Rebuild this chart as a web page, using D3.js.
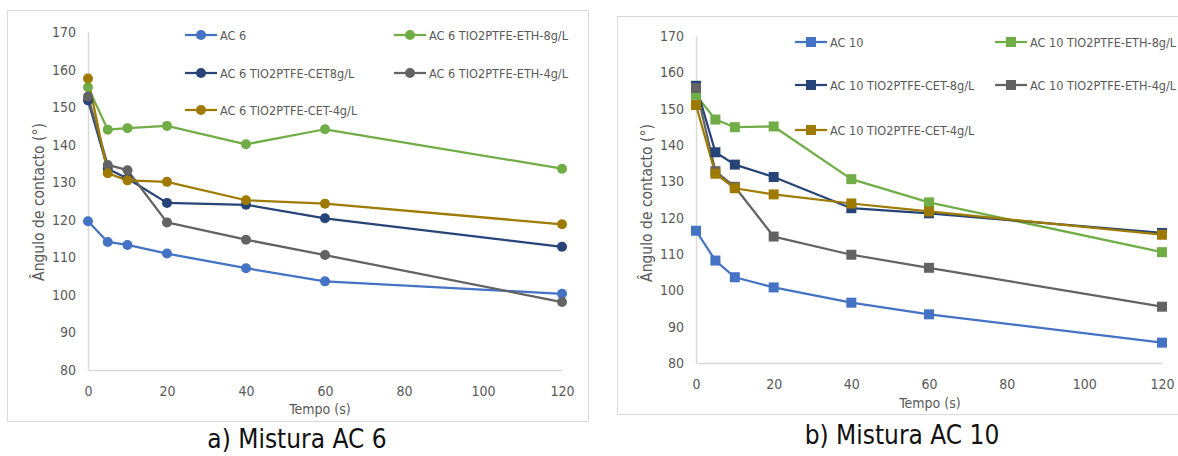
<!DOCTYPE html>
<html>
<head>
<meta charset="utf-8">
<script src="https://cdn.jsdelivr.net/npm/d3@7"></script>
<style>
  body { margin: 0; background: #fff; }
  svg text { font-family: "DejaVu Sans Condensed", "Liberation Sans", sans-serif; }
</style>
</head>
<body>
<svg id="chart" width="1178" height="456"></svg>
<script>
// time points (s)
const tempo = [0, 5, 10, 20, 40, 60, 120];
const xTicks = [0, 20, 40, 60, 80, 100, 120];
const yTicks = [80, 90, 100, 110, 120, 130, 140, 150, 160, 170];

// panel a) AC 6
const namesA = ["AC 6", "AC 6 TIO2PTFE-ETH-8g/L", "AC 6 TIO2PTFE-CET8g/L", "AC 6 TIO2PTFE-ETH-4g/L", "AC 6 TIO2PTFE-CET-4g/L"];
const ac6 = [119.6, 114.1, 113.3, 111.0, 107.1, 103.6, 100.3];
const ac6Eth8 = [155.3, 144.0, 144.4, 145.0, 140.1, 144.1, 133.6];
const ac6Cet8 = [151.8, 133.6, 131.0, 124.5, 124.0, 120.4, 112.8];
const ac6Eth4 = [152.8, 134.6, 133.2, 119.3, 114.7, 110.6, 98.1];
const ac6Cet4 = [157.6, 132.4, 130.5, 130.1, 125.2, 124.3, 118.8];

// panel b) AC 10
const namesB = ["AC 10", "AC 10 TIO2PTFE-ETH-8g/L", "AC 10 TIO2PTFE-CET-8g/L", "AC 10 TIO2PTFE-ETH-4g/L", "AC 10 TIO2PTFE-CET-4g/L"];
const ac10 = [116.4, 108.2, 103.6, 100.8, 96.6, 93.4, 85.6];
const ac10Eth8 = [153.8, 147.0, 144.9, 145.1, 130.6, 124.2, 110.5];
const ac10Cet8 = [156.3, 138.0, 134.6, 131.2, 122.6, 121.2, 115.8];
const ac10Eth4 = [155.7, 132.8, 128.5, 114.8, 109.8, 106.2, 95.5];
const ac10Cet4 = [151.0, 132.1, 128.1, 126.4, 123.9, 121.7, 115.3];

const colors = ["#4472C4", "#70AD47", "#264478", "#636363", "#9E7B00"];

const svg = d3.select("#chart");

function drawPanel(opt) {
  const g = svg.append("g");

  // frame
  g.append("rect")
    .attr("x", opt.frame[0] + 0.5).attr("y", opt.frame[1] + 0.5)
    .attr("width", opt.frame[2]).attr("height", opt.frame[3])
    .attr("fill", "#fff").attr("stroke", "#D9D9D9");

  const x = d3.scaleLinear().domain([0, 120]).range([opt.x0, opt.x1]);
  const y = d3.scaleLinear().domain([80, 170]).range([opt.y0, opt.y1]);

  // axes
  const xAxis = g.append("g")
    .attr("transform", "translate(0," + opt.y0 + ")")
    .call(d3.axisBottom(x).tickValues(xTicks).tickSize(0).tickPadding(opt.xPad));
  const yAxis = g.append("g")
    .attr("transform", "translate(" + opt.x0 + ",0)")
    .call(d3.axisLeft(y).tickValues(yTicks).tickSize(0).tickPadding(opt.yPad));
  [xAxis, yAxis].forEach(a => {
    a.select(".domain").attr("stroke", "#D9D9D9").attr("stroke-width", 1.5);
    a.selectAll("text").attr("fill", "#595959").style("font-size", "14px")
      .style("font-family", '"DejaVu Sans Condensed", sans-serif');
  });

  // axis titles
  g.append("text")
    .attr("x", opt.xTitle[0]).attr("y", opt.xTitle[1])
    .attr("text-anchor", "middle").attr("fill", "#595959").style("font-size", "14px")
    .text("Tempo  (s)");
  g.append("text")
    .attr("transform", "translate(" + opt.yTitle[0] + "," + opt.yTitle[1] + ") rotate(-90)")
    .attr("text-anchor", "middle").attr("fill", "#595959").style("font-size", "15.5px")
    .text("Ângulo de contacto (°)");

  const line = d3.line().x((d, i) => x(tempo[i])).y(d => y(d));

  opt.series.forEach((s, k) => {
    g.append("path").datum(s)
      .attr("d", line).attr("fill", "none")
      .attr("stroke", colors[k]).attr("stroke-width", 2.25)
      .attr("stroke-linejoin", "round");
  });
  opt.series.forEach((s, k) => {
    s.forEach((v, i) => drawMarker(g, opt.marker, x(tempo[i]), y(v), colors[k]));
  });

  // legend
  opt.names.forEach((n, k) => {
    const col = opt.legCols[k];
    const lx = opt.legX[col];
    const ly = opt.legY[opt.legRows[k]];
    g.append("line")
      .attr("x1", lx).attr("x2", lx + 32).attr("y1", ly).attr("y2", ly)
      .attr("stroke", colors[k]).attr("stroke-width", 2.25);
    drawMarker(g, opt.marker, lx + 16, ly, colors[k]);
    g.append("text")
      .attr("x", lx + 35).attr("y", ly + 5)
      .attr("fill", "#595959").style("font-size", "12.6px")
      .text(n);
  });

  // caption
  svg.append("text")
    .attr("x", opt.caption[0]).attr("y", opt.caption[1])
    .attr("text-anchor", "middle").attr("fill", "#111")
    .style("font-size", "26px")
    .text(opt.captionText);
}

function drawMarker(g, type, cx, cy, color) {
  if (type === "circle") {
    g.append("circle").attr("cx", cx).attr("cy", cy).attr("r", 5).attr("fill", color);
  } else {
    g.append("rect").attr("x", cx - 5).attr("y", cy - 5).attr("width", 10).attr("height", 10).attr("fill", color);
  }
}

drawPanel({
  frame: [7, 10, 581, 411],
  x0: 88, x1: 562, y0: 370, y1: 32,
  xPad: 16, yPad: 12,
  xTitle: [320, 414], yTitle: [44, 202],
  series: [ac6, ac6Eth8, ac6Cet8, ac6Eth4, ac6Cet4],
  names: namesA,
  marker: "circle",
  legX: [185, 394], legY: [35, 73, 110],
  legCols: [0, 1, 0, 1, 0], legRows: [0, 0, 1, 1, 2],
  caption: [297, 448], captionText: "a) Mistura AC 6"
});

drawPanel({
  frame: [617, 16, 570, 398],
  x0: 696, x1: 1162, y0: 363, y1: 36,
  xPad: 16, yPad: 12,
  xTitle: [930, 408], yTitle: [652, 203],
  series: [ac10, ac10Eth8, ac10Cet8, ac10Eth4, ac10Cet4],
  names: namesB,
  marker: "square",
  legX: [795, 995], legY: [42, 85, 130],
  legCols: [0, 1, 0, 1, 0], legRows: [0, 0, 1, 1, 2],
  caption: [902, 444], captionText: "b) Mistura AC 10"
});
</script>
</body>
</html>
